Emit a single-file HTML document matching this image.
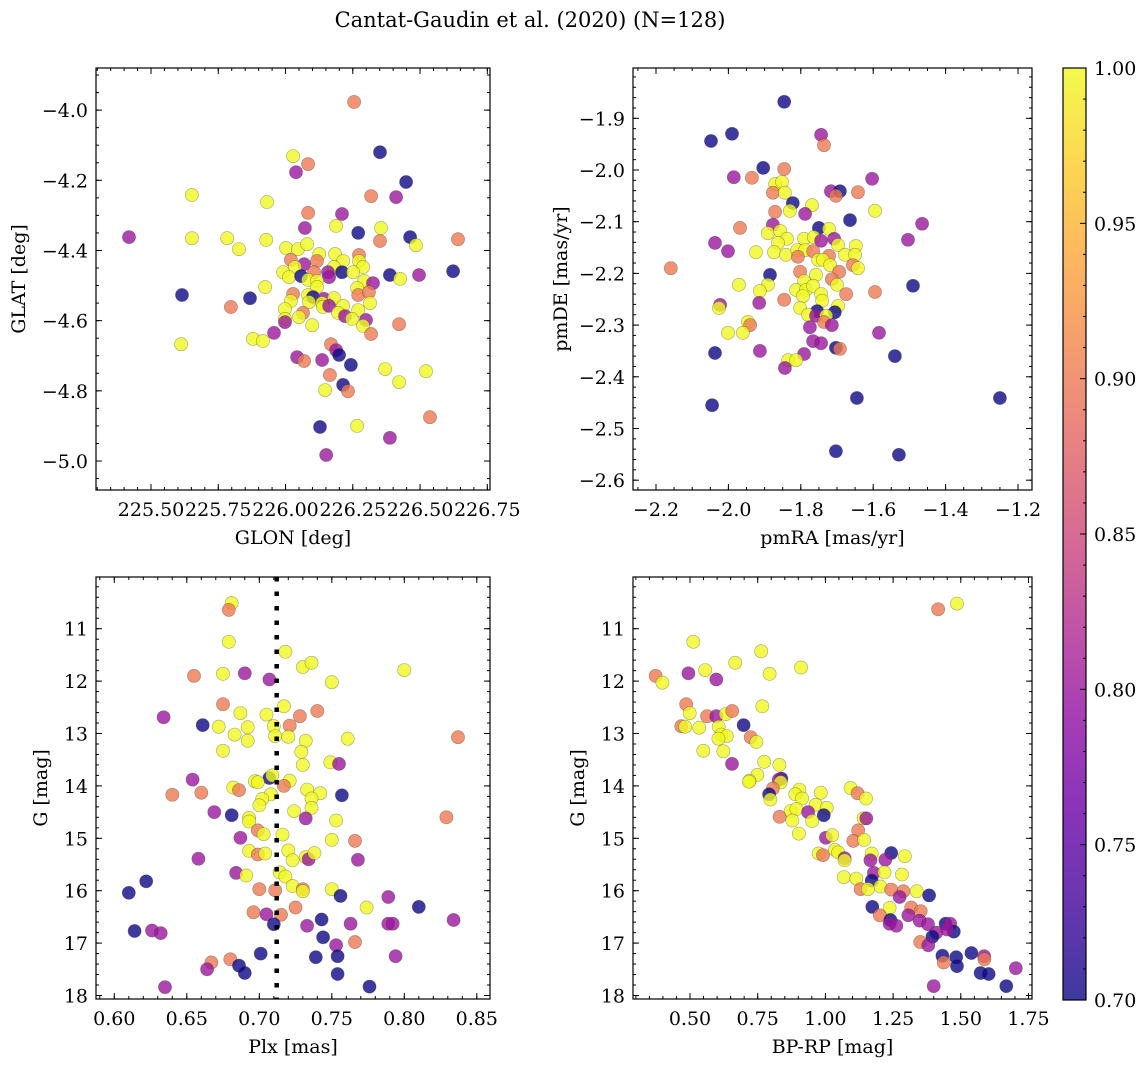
<!DOCTYPE html>
<html><head><meta charset="utf-8"><title>Cantat-Gaudin et al. (2020)</title>
<style>
html,body{margin:0;padding:0;background:#fff;}
svg{display:block;font-family:"DejaVu Serif","Liberation Serif",serif;}
</style></head>
<body>
<svg id="chart" width="1148" height="1067" viewBox="0 0 1148 1067" xmlns="http://www.w3.org/2000/svg">
<defs>
<linearGradient id="cbgrad" x1="0" y1="1" x2="0" y2="0">
<stop offset="0" stop-color="#0d0887"/><stop offset="0.1" stop-color="#41049d"/><stop offset="0.2" stop-color="#6a00a8"/><stop offset="0.3" stop-color="#8f0da4"/><stop offset="0.4" stop-color="#b12a90"/><stop offset="0.5" stop-color="#cc4778"/><stop offset="0.6" stop-color="#e16462"/><stop offset="0.7" stop-color="#f2844b"/><stop offset="0.8" stop-color="#fca636"/><stop offset="0.9" stop-color="#fcce25"/><stop offset="1" stop-color="#f0f921"/>
</linearGradient>
</defs>
<text x="530" y="27" font-size="21" text-anchor="middle">Cantat-Gaudin et al. (2020) (N=128)</text>
</svg>
<script>
// ---- data: GLON / GLAT panel ----
const tl_x = [226.255,226.351,226.028,226.084,226.039,226.448,225.652,226.318,226.411,225.931,226.084,226.210,226.188,226.072,226.355,226.270,225.418,225.652,225.783,225.928,226.351,226.463,226.485,226.641,225.827,226.002,226.046,226.080,226.125,226.184,226.273,226.020,226.069,226.117,226.214,226.273,226.288,226.035,226.180,225.991,226.013,226.058,226.106,226.158,226.162,226.210,226.251,226.388,226.426,226.496,226.623,226.084,226.117,226.117,226.292,226.325,225.924,226.266,225.615,225.868,226.028,226.084,226.102,226.020,226.087,226.143,226.136,226.180,226.270,226.310,226.314,225.797,225.998,226.139,226.162,226.214,226.270,226.065,226.195,226.221,225.998,225.998,226.050,226.247,226.299,226.288,226.099,226.422,225.957,226.318,225.879,225.916,225.612,226.169,226.188,226.199,226.043,226.069,226.136,226.243,226.370,226.522,226.165,226.422,226.214,226.232,226.147,226.537,226.128,226.266,226.388,226.151];
const tl_y = [-3.977,-4.120,-4.131,-4.154,-4.177,-4.205,-4.242,-4.245,-4.248,-4.262,-4.293,-4.296,-4.330,-4.336,-4.336,-4.350,-4.362,-4.365,-4.365,-4.370,-4.373,-4.362,-4.385,-4.368,-4.396,-4.393,-4.396,-4.382,-4.410,-4.410,-4.413,-4.427,-4.439,-4.430,-4.430,-4.430,-4.447,-4.447,-4.447,-4.462,-4.476,-4.473,-4.462,-4.462,-4.476,-4.462,-4.462,-4.470,-4.481,-4.470,-4.459,-4.484,-4.487,-4.504,-4.487,-4.493,-4.504,-4.507,-4.527,-4.536,-4.524,-4.527,-4.533,-4.544,-4.547,-4.538,-4.550,-4.536,-4.527,-4.519,-4.550,-4.561,-4.567,-4.561,-4.558,-4.558,-4.570,-4.578,-4.578,-4.587,-4.595,-4.604,-4.590,-4.595,-4.598,-4.615,-4.613,-4.610,-4.635,-4.638,-4.652,-4.658,-4.667,-4.667,-4.684,-4.698,-4.704,-4.715,-4.712,-4.726,-4.738,-4.744,-4.755,-4.775,-4.783,-4.801,-4.798,-4.875,-4.903,-4.900,-4.934,-4.983];
const tl_p = [0.9,0.7,1,0.9,0.8,0.7,1,0.9,0.8,1, 0.9,0.8,1,0.8,1,0.7,0.8,1,1,1, 0.9,0.7,1,0.9,1,1,1,1,1,1, 0.9,0.9,0.8,0.9,1,1,1,1,1,1, 1,0.7,0.9,0.8,0.8,0.7,1,0.7,1,0.8, 0.7,1,1,1,1,0.8,1,1,0.7,0.7, 0.9,1,0.7,1,1,0.8,1,1,0.9,0.9, 1,0.9,1,1,0.8,1,1,0.9,1,0.8, 1,0.8,1,1,0.8,1,1,0.9,0.8,0.9, 1,1,1,0.9,0.8,0.7,0.8,0.9,0.8,0.7, 1,1,0.9,1,0.7,0.9,1,0.9,0.7,1, 0.8,0.8];
const tl_xticks = [225.50,225.75,226.00,226.25,226.50,226.75];
const tl_xlabels = ["225.50","225.75","226.00","226.25","226.50","226.75"];
const tl_yticks = [-4.0,-4.2,-4.4,-4.6,-4.8,-5.0];
const tl_ylabels = ["−4.0","−4.2","−4.4","−4.6","−4.8","−5.0"];

// ---- data: proper motion panel ----
const tr_x = [-1.846,-2.048,-1.990,-1.744,-1.736,-1.904,-1.846,-1.985,-1.935,-1.603,-1.871,-1.852,-1.877,-1.844,-1.717,-1.692,-1.703,-1.642,-1.822,-1.769,-1.830,-1.871,-1.788,-1.595,-1.664,-1.465,-1.968,-1.877,-1.750,-1.722,-1.891,-1.857,-2.037,-1.504,-1.838,-1.791,-1.764,-1.744,-1.708,-1.697,-1.648,-1.863,-2.001,-1.924,-1.874,-1.841,-1.810,-1.788,-1.766,-1.808,-1.722,-1.678,-1.650,-1.752,-1.739,-1.719,-1.656,-1.642,-2.159,-1.802,-1.758,-1.694,-1.885,-1.714,-1.971,-1.891,-1.791,-1.700,-1.490,-1.813,-1.786,-1.766,-1.913,-1.744,-1.675,-1.595,-1.794,-1.846,-1.741,-1.915,-2.023,-2.026,-1.802,-1.697,-1.755,-1.706,-1.780,-1.758,-1.730,-1.736,-1.775,-1.714,-1.946,-1.940,-2.001,-1.960,-1.584,-1.766,-1.744,-1.703,-1.692,-2.037,-1.913,-1.791,-1.540,-1.835,-1.813,-1.844,-2.045,-1.645,-1.250,-1.703,-1.529];
const tr_y = [-1.868,-1.944,-1.930,-1.932,-1.952,-1.996,-1.998,-2.014,-2.015,-2.017,-2.027,-2.023,-2.044,-2.044,-2.041,-2.041,-2.050,-2.043,-2.064,-2.068,-2.079,-2.081,-2.085,-2.079,-2.097,-2.104,-2.112,-2.106,-2.112,-2.114,-2.122,-2.118,-2.141,-2.135,-2.133,-2.133,-2.130,-2.137,-2.133,-2.145,-2.147,-2.141,-2.157,-2.159,-2.159,-2.164,-2.155,-2.155,-2.157,-2.168,-2.166,-2.164,-2.164,-2.174,-2.174,-2.184,-2.184,-2.190,-2.190,-2.197,-2.203,-2.197,-2.203,-2.211,-2.222,-2.222,-2.215,-2.222,-2.224,-2.232,-2.232,-2.224,-2.234,-2.240,-2.240,-2.236,-2.244,-2.251,-2.253,-2.257,-2.261,-2.267,-2.267,-2.263,-2.273,-2.275,-2.280,-2.282,-2.282,-2.294,-2.304,-2.300,-2.294,-2.300,-2.315,-2.315,-2.315,-2.331,-2.335,-2.344,-2.346,-2.354,-2.350,-2.356,-2.360,-2.368,-2.368,-2.383,-2.455,-2.441,-2.441,-2.544,-2.551];
const tr_p = [0.7,0.7,0.7,0.8,0.9,0.7,0.9,0.8,0.9,0.8, 1,1,0.9,1,0.8,0.7,0.9,0.9,0.7,1, 1,0.9,0.8,1,0.7,0.8,0.9,0.8,0.7,1, 1,1,0.8,0.8,1,1,1,0.8,0.8,1, 1,1,0.8,1,1,1,1,1,0.9,0.9, 0.9,1,1,1,1,1,0.9,1,0.9,0.9, 1,0.9,0.7,0.9,1,1,1,1,0.7,1, 1,1,1,1,0.9,0.9,1,0.9,1,0.8, 0.8,1,1,1,0.7,0.7,1,0.8,1,0.9, 0.8,0.8,1,0.9,1,1,0.8,0.8,0.8,0.7, 0.9,0.7,0.8,0.8,0.7,1,1,0.8,0.7,0.7, 0.7,0.7,0.7];
const tr_xticks = [-2.2,-2.0,-1.8,-1.6,-1.4,-1.2];
const tr_xlabels = ["−2.2","−2.0","−1.8","−1.6","−1.4","−1.2"];
const tr_yticks = [-1.9,-2.0,-2.1,-2.2,-2.3,-2.4,-2.5,-2.6];
const tr_ylabels = ["−1.9","−2.0","−2.1","−2.2","−2.3","−2.4","−2.5","−2.6"];

// ---- data: parallax vs G panel ----
const bl_x = [0.681,0.679,0.679,0.718,0.730,0.736,0.800,0.655,0.675,0.690,0.707,0.750,0.675,0.717,0.740,0.728,0.687,0.705,0.634,0.661,0.672,0.692,0.710,0.721,0.683,0.692,0.711,0.720,0.732,0.761,0.837,0.675,0.729,0.730,0.749,0.755,0.654,0.707,0.709,0.721,0.717,0.697,0.699,0.682,0.686,0.640,0.660,0.733,0.742,0.757,0.736,0.708,0.702,0.700,0.736,0.669,0.681,0.724,0.732,0.693,0.693,0.753,0.829,0.699,0.703,0.716,0.687,0.750,0.766,0.658,0.693,0.699,0.704,0.720,0.723,0.732,0.734,0.738,0.768,0.684,0.691,0.714,0.718,0.622,0.610,0.700,0.711,0.723,0.730,0.730,0.750,0.756,0.789,0.774,0.810,0.725,0.696,0.705,0.715,0.743,0.710,0.733,0.763,0.789,0.792,0.834,0.614,0.626,0.632,0.744,0.753,0.766,0.701,0.739,0.754,0.794,0.680,0.667,0.686,0.664,0.690,0.754,0.635,0.776];
const bl_y = [10.51,10.64,11.25,11.44,11.73,11.65,11.79,11.90,11.86,11.85,11.97,12.02,12.44,12.48,12.57,12.67,12.61,12.64,12.69,12.84,12.87,12.88,12.86,12.85,13.02,13.14,13.05,13.06,13.14,13.10,13.07,13.33,13.35,13.60,13.55,13.58,13.88,13.85,13.80,13.90,14.00,13.91,13.93,14.03,14.08,14.17,14.13,14.07,14.14,14.18,14.24,14.16,14.25,14.37,14.42,14.50,14.56,14.48,14.62,14.61,14.68,14.66,14.60,14.85,14.92,14.93,14.99,15.03,15.05,15.39,15.24,15.31,15.29,15.23,15.42,15.36,15.40,15.28,15.41,15.66,15.71,15.65,15.73,15.82,16.04,15.97,15.99,15.91,15.97,16.01,15.97,16.10,16.12,16.32,16.31,16.32,16.41,16.45,16.46,16.55,16.64,16.67,16.63,16.63,16.63,16.56,16.77,16.76,16.81,16.89,17.04,16.98,17.20,17.27,17.25,17.25,17.31,17.37,17.43,17.50,17.57,17.59,17.84,17.83];
const bl_p = [1,0.9,1,1,1,1,1,0.9,1,0.8, 0.8,1,0.9,1,0.9,0.9,1,1,0.8,0.7, 1,1,1,0.9,1,1,1,1,1,1, 0.9,1,1,1,1,0.8,0.8,0.7,1,1, 0.9,1,1,1,0.9,0.9,0.9,1,1,0.7, 1,1,1,1,1,0.8,0.7,1,0.8,1, 1,1,0.9,0.9,1,1,0.8,1,0.9,0.8, 1,0.9,1,1,1,1,0.8,1,0.8,0.8, 1,1,1,0.7,0.7,0.9,0.9,1,0.9,1, 1,0.7,0.8,1,0.7,0.9,0.9,0.8,0.9,0.7, 0.7,0.8,0.8,0.8,0.8,0.8,0.7,0.8,0.8,0.7, 0.8,0.9,0.7,0.7,0.7,0.8,0.9,0.9,0.7,0.8, 0.7,0.7,0.8,0.7];
const bl_xticks = [0.60,0.65,0.70,0.75,0.80,0.85];
const bl_xlabels = ["0.60","0.65","0.70","0.75","0.80","0.85"];
const g_yticks = [11,12,13,14,15,16,17,18];
const g_ylabels = ["11","12","13","14","15","16","17","18"];
const plx_mean = [0.712];

// ---- data: colour-magnitude panel ----
const br_x = [1.416,1.486,0.512,0.763,0.667,0.910,0.556,0.494,0.794,0.373,0.398,0.597,0.767,0.486,0.499,0.563,0.597,0.632,0.656,0.698,0.468,0.482,0.534,0.606,0.616,0.636,0.605,0.724,0.745,0.549,0.623,0.655,0.774,0.830,0.749,0.720,0.718,0.837,0.828,0.835,0.806,0.792,0.797,0.904,0.889,0.914,0.983,1.093,1.119,1.150,0.872,0.893,0.964,1.005,0.936,0.994,0.878,0.951,0.831,1.141,1.151,1.121,0.902,1.002,1.025,1.103,1.143,0.975,0.991,1.035,1.047,1.071,1.071,1.171,1.243,1.293,1.166,1.221,1.179,1.218,1.283,1.068,1.114,1.171,1.203,1.130,1.157,1.243,1.288,1.274,1.337,1.383,1.173,1.237,1.201,1.317,1.352,1.306,1.240,1.237,1.262,1.348,1.379,1.444,1.461,1.474,1.449,1.410,1.395,1.350,1.380,1.432,1.437,1.483,1.486,1.539,1.586,1.587,1.573,1.603,1.703,1.400,1.668];
const br_y = [10.63,10.52,11.25,11.43,11.65,11.74,11.79,11.85,11.86,11.90,12.03,11.97,12.48,12.44,12.61,12.67,12.67,12.63,12.57,12.84,12.86,12.87,12.89,12.87,13.02,13.05,13.10,13.07,13.16,13.33,13.34,13.58,13.54,13.60,13.79,13.90,13.92,13.86,13.88,13.93,14.05,14.16,14.26,14.07,14.16,14.24,14.13,14.04,14.14,14.24,14.48,14.44,14.36,14.42,14.50,14.56,14.66,14.67,14.59,14.62,14.62,14.85,14.91,14.99,14.94,15.05,15.03,15.29,15.32,15.22,15.27,15.38,15.42,15.29,15.28,15.34,15.42,15.41,15.66,15.65,15.69,15.74,15.77,15.81,15.92,15.97,15.97,15.98,16.01,16.12,16.01,16.09,16.31,16.33,16.47,16.32,16.39,16.47,16.56,16.63,16.67,16.57,16.64,16.63,16.63,16.78,16.74,16.80,16.88,16.98,17.04,17.24,17.37,17.27,17.44,17.19,17.25,17.31,17.57,17.59,17.48,17.82,17.82];
const br_p = [0.9,1,1,1,1,1,1,0.8,1,0.9, 1,0.8,1,0.9,1,0.9,0.8,1,0.9,0.7, 0.9,1,1,1,1,1,1,0.9,1,1, 1,0.8,1,1,1,1,1,0.7,0.8,1, 0.9,0.7,1,1,1,1,1,1,0.9,1, 1,1,1,1,0.8,0.7,1,1,0.9,1, 0.8,0.9,1,0.8,1,0.9,1,1,0.9,1, 1,0.8,1,1,0.7,1,0.8,0.8,0.8,1, 1,1,1,0.7,1,0.9,1,0.9,0.9,0.8, 1,0.7,0.7,1,0.9,0.9,0.9,0.8,0.7,0.8, 0.8,0.8,0.8,0.7,0.8,0.7,0.8,0.8,0.7,0.9, 0.8,0.7,0.9,0.7,0.7,0.7,0.8,0.9,0.7,0.7, 0.8,0.8,0.7];
const br_xticks = [0.50,0.75,1.00,1.25,1.50,1.75];
const br_xlabels = ["0.50","0.75","1.00","1.25","1.50","1.75"];

// ---- colorbar ----
const cb_ticks = [0.70,0.75,0.80,0.85,0.90,0.95,1.00];
const cb_labels = ["0.70","0.75","0.80","0.85","0.90","0.95","1.00"];

const NS = "http://www.w3.org/2000/svg";
const svg = document.getElementById('chart');
function mk(tag, attrs, parent) {
  const e = document.createElementNS(NS, tag);
  for (const k in attrs) e.setAttribute(k, attrs[k]);
  (parent || svg).appendChild(e);
  return e;
}
const stops = [[0,13,8,135],[0.1,65,4,157],[0.2,106,0,168],[0.3,143,13,164],[0.4,177,42,144],[0.5,204,71,120],[0.6,225,100,98],[0.7,242,132,75],[0.8,252,166,54],[0.9,252,206,37],[1,240,249,33]];
function plasma(p) {
  let t = Math.max(0, Math.min(1, (p - 0.7) / 0.3));
  for (let i = 0; i < stops.length - 1; i++) {
    const a = stops[i], b = stops[i + 1];
    if (t <= b[0]) {
      const f = (t - a[0]) / (b[0] - a[0]);
      return 'rgb(' + [1,2,3].map(j => Math.round(a[j] + f * (b[j] - a[j]))).join(',') + ')';
    }
  }
  return 'rgb(240,249,33)';
}

const FS = 19;
const panels = [
  {id:'astrometry-position', L:96, T:68, R:490, B:490, x0:225.2955, x1:226.760, yTop:-3.880, yBot:-5.0826,
   xs:tl_x, ys:tl_y, ps:tl_p, xt:tl_xticks, xl:tl_xlabels, yt:tl_yticks, yl:tl_ylabels, xmin:0.05, ymin:0.05,
   xlabel:'GLON [deg]', ylabel:'GLAT [deg]', ylx:18},
  {id:'proper-motion', L:633, T:68, R:1032, B:490, x0:-2.2635, x1:-1.1614, yTop:-1.8027, yBot:-2.619,
   xs:tr_x, ys:tr_y, ps:tr_p, xt:tr_xticks, xl:tr_xlabels, yt:tr_yticks, yl:tr_ylabels, xmin:0.05, ymin:0.02,
   xlabel:'pmRA [mas/yr]', ylabel:'pmDE [mas/yr]', ylx:560},
  {id:'parallax-magnitude', L:96, T:577, R:490, B:999, x0:0.5874, x1:0.8591, yTop:10.013, yBot:18.067,
   xs:bl_x, ys:bl_y, ps:bl_p, xt:bl_xticks, xl:bl_xlabels, yt:g_yticks, yl:g_ylabels, xmin:0.01, ymin:0.2,
   xlabel:'Plx [mas]', ylabel:'G [mag]', ylx:40},
  {id:'color-magnitude', L:633, T:577, R:1032, B:999, x0:0.2895, x1:1.7629, yTop:10.013, yBot:18.067,
   xs:br_x, ys:br_y, ps:br_p, xt:br_xticks, xl:br_xlabels, yt:g_yticks, yl:g_ylabels, xmin:0.05, ymin:0.2,
   xlabel:'BP-RP [mag]', ylabel:'G [mag]', ylx:577}
];

panels.forEach((P, pi) => {
  const sx = v => P.L + (v - P.x0) / (P.x1 - P.x0) * (P.R - P.L);
  const sy = v => P.T + (v - P.yTop) / (P.yBot - P.yTop) * (P.B - P.T);
  const g = mk('g', {});
  
  
  const clipId = 'clip' + pi;
  const cp = mk('clipPath', {id: clipId}, g);
  mk('rect', {x:P.L, y:P.T, width:P.R-P.L, height:P.B-P.T}, cp);
  const pts = mk('g', {'clip-path':'url(#' + clipId + ')'}, g);
  
  
  for (let i = 0; i < P.xs.length; i++) {
    const c = mk('circle', {cx: sx(P.xs[i]).toFixed(1), cy: sy(P.ys[i]).toFixed(1), r: 6.6,
      fill: plasma(P.ps[i]), 'fill-opacity': 0.8, stroke: 'rgba(60,60,40,0.45)', 'stroke-width': 0.6}, pts);
    
    
  }
  if (pi === 2) {
    const ln = mk('line', {x1: sx(plx_mean[0]), x2: sx(plx_mean[0]), y1: P.T, y2: P.B, stroke:'#000', 'stroke-width':4.5, 'stroke-dasharray':'4.5 10'}, g);
    
    
  }
  const tk = mk('g', {stroke:'#000', 'stroke-width':1}, g);
  
  
  const eps = 1e-9;
  let start = Math.ceil(Math.min(P.x0, P.x1) / P.xmin - eps);
  for (let k = start; k * P.xmin <= Math.max(P.x0, P.x1) + eps; k++) {
    const x = sx(k * P.xmin);
    if (x < P.L + 0.5 || x > P.R - 0.5) continue;
    mk('line', {x1:x, x2:x, y1:P.B, y2:P.B-3}, tk);
    mk('line', {x1:x, x2:x, y1:P.T, y2:P.T+3}, tk);
  }
  start = Math.ceil(Math.min(P.yTop, P.yBot) / P.ymin - eps);
  for (let k = start; k * P.ymin <= Math.max(P.yTop, P.yBot) + eps; k++) {
    const y = sy(k * P.ymin);
    if (y < P.T + 0.5 || y > P.B - 0.5) continue;
    mk('line', {x1:P.L, x2:P.L+3, y1:y, y2:y}, tk);
    mk('line', {x1:P.R, x2:P.R-3, y1:y, y2:y}, tk);
  }
  P.xt.forEach((v, i) => {
    const x = sx(v);
    mk('line', {x1:x, x2:x, y1:P.B, y2:P.B-6}, tk);
    mk('line', {x1:x, x2:x, y1:P.T, y2:P.T+6}, tk);
    const t = mk('text', {x:x, y:P.B+26, 'font-size':FS, 'text-anchor':'middle'}, g);
    t.textContent = P.xl[i];
    
    
  });
  P.yt.forEach((v, i) => {
    const y = sy(v);
    mk('line', {x1:P.L, x2:P.L+6, y1:y, y2:y}, tk);
    mk('line', {x1:P.R, x2:P.R-6, y1:y, y2:y}, tk);
    const t = mk('text', {x:P.L-8, y:y+7, 'font-size':FS, 'text-anchor':'end'}, g);
    t.textContent = P.yl[i];
    
    
  });
  const fr = mk('rect', {x:P.L, y:P.T, width:P.R-P.L, height:P.B-P.T, fill:'none', stroke:'#000', 'stroke-width':1.2}, g);
  
  
  const xt = mk('text', {x:(P.L+P.R)/2, y:P.B+54, 'font-size':FS, 'text-anchor':'middle'}, g);
  xt.textContent = P.xlabel;
  
  
  const cy = (P.T + P.B) / 2;
  const yt = mk('text', {x:P.ylx, y:cy, 'font-size':FS, 'text-anchor':'middle', transform:'rotate(-90 ' + P.ylx + ' ' + cy + ') translate(0 7)'}, g);
  yt.textContent = P.ylabel;
  
  
});

const CB = {L:1063, R:1086, T:68, B:1000, v0:0.70, v1:1.00};
const cbg = mk('g', {});


const cbr = mk('rect', {x:CB.L, y:CB.T, width:CB.R-CB.L, height:CB.B-CB.T, fill:'url(#cbgrad)', 'fill-opacity':0.8}, cbg);


const cby = v => CB.B - (v - CB.v0) / (CB.v1 - CB.v0) * (CB.B - CB.T);
for (let k = 71; k < 100; k++) {
  if (k % 5 === 0) continue;
  const y = cby(k / 100);
  mk('line', {x1:CB.R, x2:CB.R-3, y1:y, y2:y, stroke:'#000', 'stroke-width':1}, cbg);
}
cb_ticks.forEach((v, i) => {
  const y = cby(v);
  mk('line', {x1:CB.R, x2:CB.R-6, y1:y, y2:y, stroke:'#000', 'stroke-width':1}, cbg);
  const t = mk('text', {x:CB.R+8, y:y+7, 'font-size':FS}, cbg);
  t.textContent = cb_labels[i];
  
  
});
const cbf = mk('rect', {x:CB.L, y:CB.T, width:CB.R-CB.L, height:CB.B-CB.T, fill:'none', stroke:'#000', 'stroke-width':1.2}, cbg);


</script>
</body></html>
